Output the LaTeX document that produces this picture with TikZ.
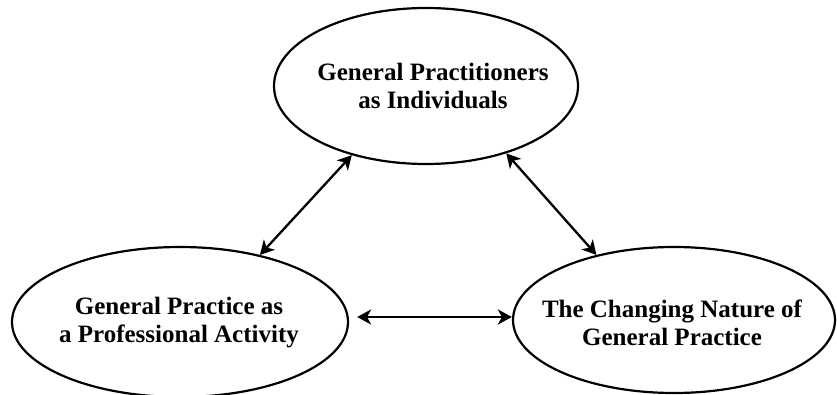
\documentclass[tikz,border=0pt]{standalone}
\usepackage{fontspec}
\setmainfont{Liberation Serif}
\usetikzlibrary{shapes.geometric,arrows.meta}
\begin{document}
\begin{tikzpicture}[x=1pt,y=-1pt,
  oval/.style={draw, ellipse, line width=2.2pt, inner sep=0pt},
  ovaltext/.style={align=center, inner sep=0pt,
    font=\bfseries\fontsize{25}{28}\selectfont},
  head/.tip={Stealth[length=14pt,width=15pt,inset=4pt]},
  link/.style={head-head, line width=2.3pt}
]
\useasboundingbox (0,0) rectangle (837,395);

% the three themes
\node[oval, minimum width=304pt, minimum height=156pt] (gp) at (426,86) {};
\node[oval, minimum width=336pt, minimum height=150pt] (prof) at (180,322) {};
\node[oval, minimum width=322pt, minimum height=146pt] (change) at (674,320) {};

\node[ovaltext] (gptext) at (433,86) {General Practitioners\\as Individuals};
\node[ovaltext] (proftext) at (179,323) {General Practice as\\a Professional Activity};
\node[ovaltext] (changetext) at (672,323) {The Changing Nature of\\General Practice};

% two-way links between the themes
\draw[link] (gp.223) -- (prof.40);
\draw[link] (gp.320) -- (change.140);
\draw[link] ([xshift=8pt,yshift=5pt]prof.east) -- ([yshift=3pt]change.west);
\end{tikzpicture}
\end{document}
